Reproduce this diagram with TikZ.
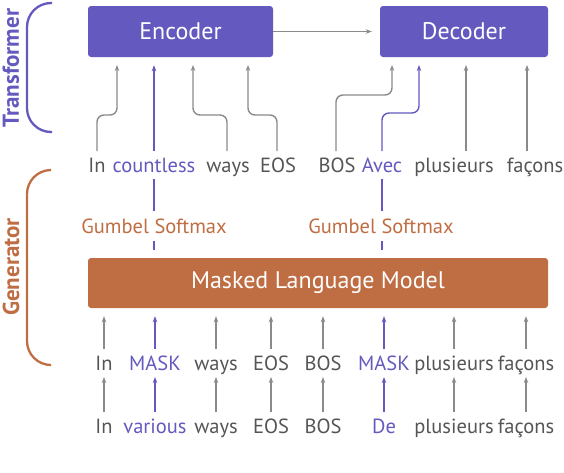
\documentclass[tikz,border=0pt]{standalone}
\usepackage{fontspec}
\setmainfont{PT Sans}
\usetikzlibrary{arrows.meta,calc}
\definecolor{tfpurple}{RGB}{99,89,190}
\definecolor{genorange}{RGB}{191,109,67}
\definecolor{wordgrey}{RGB}{85,85,85}
\definecolor{linegrey}{RGB}{138,138,138}
\tikzset{
  block/.style={rectangle, rounded corners=3pt, text=white, inner sep=0pt, font=\fontsize{24}{24}\selectfont},
  word/.style={text=wordgrey, anchor=base, inner sep=0pt, outer ysep=7pt, text height=14pt, text depth=0pt, font=\fontsize{20.5}{20.5}\selectfont},
  hl/.style={word, text=tfpurple},
  gumbel/.style={word, text=genorange, outer ysep=8pt},
  connect/.style={-{Stealth[length=6pt,width=4.5pt]}, draw=linegrey, line width=1.4pt},
  hconnect/.style={connect, draw=tfpurple},
  toblock/.style={shorten >=8pt},
  jog/.style={rounded corners=7pt},
  bracket/.style={line width=2.3pt, rounded corners=24pt},
  side/.style={rotate=90, font=\fontsize{23}{23}\selectfont\bfseries}
}

\begin{document}
\begin{tikzpicture}[x=1pt, y=-1pt]
    \useasboundingbox (0,0) rectangle (564,472);

    % blocks
    \node[block, fill=tfpurple, minimum width=185pt, minimum height=51pt] (Enc) at (180.5,31.5) {Encoder};
    \node[block, fill=tfpurple, minimum width=168pt, minimum height=51pt] (Dec) at (464,31.5) {Decoder};
    \node[block, fill=genorange, minimum width=460pt, minimum height=50pt] (MLM) at (318,283) {Masked Language Model};

    % side labels
    \draw[bracket, tfpurple] (52,3) -- (27,3) -- (27,132) -- (52,132);
    \node[side, text=tfpurple] (Tf) at (11,68) {Transformer};
    \draw[bracket, genorange] (50,170) -- (27,170) -- (27,365) -- (50,365);
    \node[side, text=genorange] (Gen) at (11,267) {Generator};

    % transformer input words
    \node[word] (e1) at (97,172) {In};
    \node[hl]   (e2) at (154,172) {countless};
    \node[word] (e3) at (228,172) {ways};
    \node[word] (e4) at (278,172) {EOS};
    \node[word] (d1) at (337,172) {BOS};
    \node[hl]   (d2) at (382,172) {Avec};
    \node[word] (d3) at (454,172) {plusieurs};
    \node[word] (d4) at (535,172) {façons};

    % gumbel softmax
    \node[gumbel] (G1) at (154,233) {Gumbel Softmax};
    \node[gumbel] (G2) at (381,233) {Gumbel Softmax};

    % masked words
    \node[word] (m1) at (104,370) {In};
    \node[hl]   (m2) at (155,370) {MASK};
    \node[word] (m3) at (216,370) {ways};
    \node[word] (m4) at (271,370) {EOS};
    \node[word] (m5) at (323,370) {BOS};
    \node[hl]   (m6) at (384,370) {MASK};
    \node[word] (m7) at (454,370) {plusieurs};
    \node[word] (m8) at (526,370) {façons};

    % original words
    \node[word] (o1) at (104,433) {In};
    \node[hl]   (o2) at (155,433) {various};
    \node[word] (o3) at (216,433) {ways};
    \node[word] (o4) at (271,433) {EOS};
    \node[word] (o5) at (323,433) {BOS};
    \node[hl]   (o6) at (384,433) {De};
    \node[word] (o7) at (454,433) {plusieurs};
    \node[word] (o8) at (526,433) {façons};

    % block inputs
    \coordinate (ein1) at (117,57);
    \coordinate (ein3) at (193,57);
    \coordinate (ein4) at (248,57);
    \coordinate (din1) at (392,57);
    \coordinate (din2) at (419,57);
    \coordinate (din3) at (466,57);
    \coordinate (din4) at (527,57);

    \draw[connect, toblock] (Enc) -- (Dec);

    \draw[connect, toblock, jog] (e1.north) |- ($(ein1)+(0,58)$) -- (ein1);
    \draw[hconnect, toblock] (e2.north) -- (e2.north |- Enc.south);
    \draw[connect, toblock, jog] (e3.north -| 227,0) |- ($(ein3)+(0,58)$) -- (ein3);
    \draw[connect, toblock, jog] (e4.north -| 277,0) |- ($(ein4)+(0,58)$) -- (ein4);
    \draw[connect, toblock, jog] (d1.north -| 336,0) |- ($(din1)+(0,38)$) -- (din1);
    \draw[hconnect, toblock, jog] (d2.north) |- ($(din2)+(0,56)$) -- (din2);
    \draw[connect, toblock] (d3.north -| din3) -- (din3);
    \draw[connect, toblock] (d4.north -| din4) -- (din4);

    % through gumbel softmax
    \draw[tfpurple, line width=1.4pt] (G1.north) -- (e2.south);
    \draw[tfpurple, line width=1.4pt, shorten >=8pt] (G1.south) -- (G1.south |- MLM.north);
    \draw[tfpurple, line width=1.4pt] (G2.north -| d2) -- (d2.south);
    \draw[tfpurple, line width=1.4pt, shorten >=8pt] (G2.south -| d2) -- (d2 |- MLM.north);

    % into the masked language model
    \foreach \i in {1,3,4,5,7,8} {
      \draw[connect, toblock] (m\i.north) -- (m\i.north |- MLM.south);
      \draw[connect] (o\i.north) -- (m\i.south);
    }
    \foreach \i in {2,6} {
      \draw[hconnect, toblock] (m\i.north) -- (m\i.north |- MLM.south);
      \draw[hconnect] (o\i.north) -- (m\i.south);
    }
\end{tikzpicture}
\end{document}
